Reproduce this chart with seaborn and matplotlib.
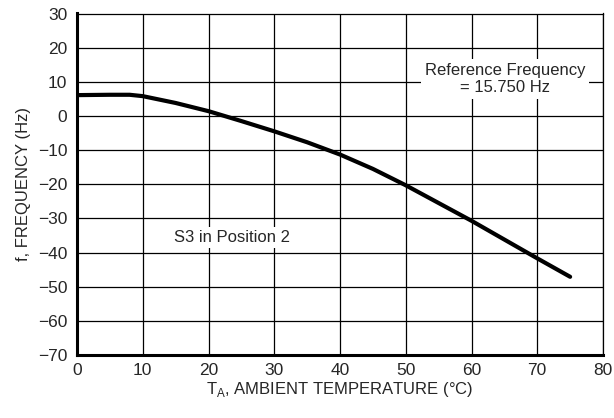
import matplotlib
matplotlib.use("Agg")
import matplotlib.pyplot as plt
import seaborn as sns
import pandas as pd
from matplotlib import font_manager

temps = [0, 5, 8, 10, 15, 20, 25, 30, 35, 40, 45, 50, 55, 60, 65, 70, 75]
freq = [6.1, 6.2, 6.2, 5.8, 3.8, 1.4, -1.5, -4.5, -7.7, -11.3, -15.5, -20.3, -25.5, -30.7, -36.2, -41.7, -47.1]
x_ticks = [0, 10, 20, 30, 40, 50, 60, 70, 80]
y_ticks = [30, 20, 10, 0, -10, -20, -30, -40, -50, -60, -70]

sns.set_style("white")
names = {f.name for f in font_manager.fontManager.ttflist}
fam = "Liberation Sans Narrow" if "Liberation Sans Narrow" in names else "Liberation Sans"
plt.rcParams['font.family'] = [fam, 'DejaVu Sans']
plt.rcParams['axes.unicode_minus'] = True

df = pd.DataFrame({"T": temps, "f": freq})

fig = plt.figure(figsize=(6.14, 4.18), dpi=100)
ax = fig.add_axes([77/614, 1-355/418, (603-77)/614, (355-13.5)/418])
sns.lineplot(data=df, x="T", y="f", ax=ax, color="black", linewidth=3, solid_capstyle="round", zorder=3)

ax.set_xlim(0, 80)
ax.set_ylim(-70, 30)
ax.set_xticks(x_ticks)
ax.set_yticks(y_ticks)
ax.set_xticklabels([str(t) for t in x_ticks], fontsize=12.5)
ax.set_yticklabels([str(t).replace('-', '\u2212') for t in y_ticks], fontsize=12.5)
ax.grid(True, color="black", linewidth=0.9)
ax.tick_params(axis="x", length=0, pad=6)
ax.tick_params(axis="y", length=0, pad=7)
for s in ["top", "right"]:
    ax.spines[s].set_linewidth(0.9)
    ax.spines[s].set_color("black")
for s in ["left", "bottom"]:
    ax.spines[s].set_linewidth(2.2)
    ax.spines[s].set_color("black")
ax.set_xlabel("T$_\\mathregular{A}$, AMBIENT TEMPERATURE (°C)", fontsize=12, labelpad=1)
ax.set_ylabel("f, FREQUENCY (Hz)", fontsize=12, labelpad=5)

ax.text(65.1, 10.8, "Reference Frequency\n= 15.750 Hz", ha="center", va="center", fontsize=12,
        linespacing=1.1, zorder=4,
        bbox=dict(facecolor="white", edgecolor="none", pad=3))
ax.text(23.5, -35.5, "S3 in Position 2", ha="center", va="center", fontsize=12, zorder=4,
        bbox=dict(facecolor="white", edgecolor="none", pad=2))

fig.savefig("out.png", dpi=100)
